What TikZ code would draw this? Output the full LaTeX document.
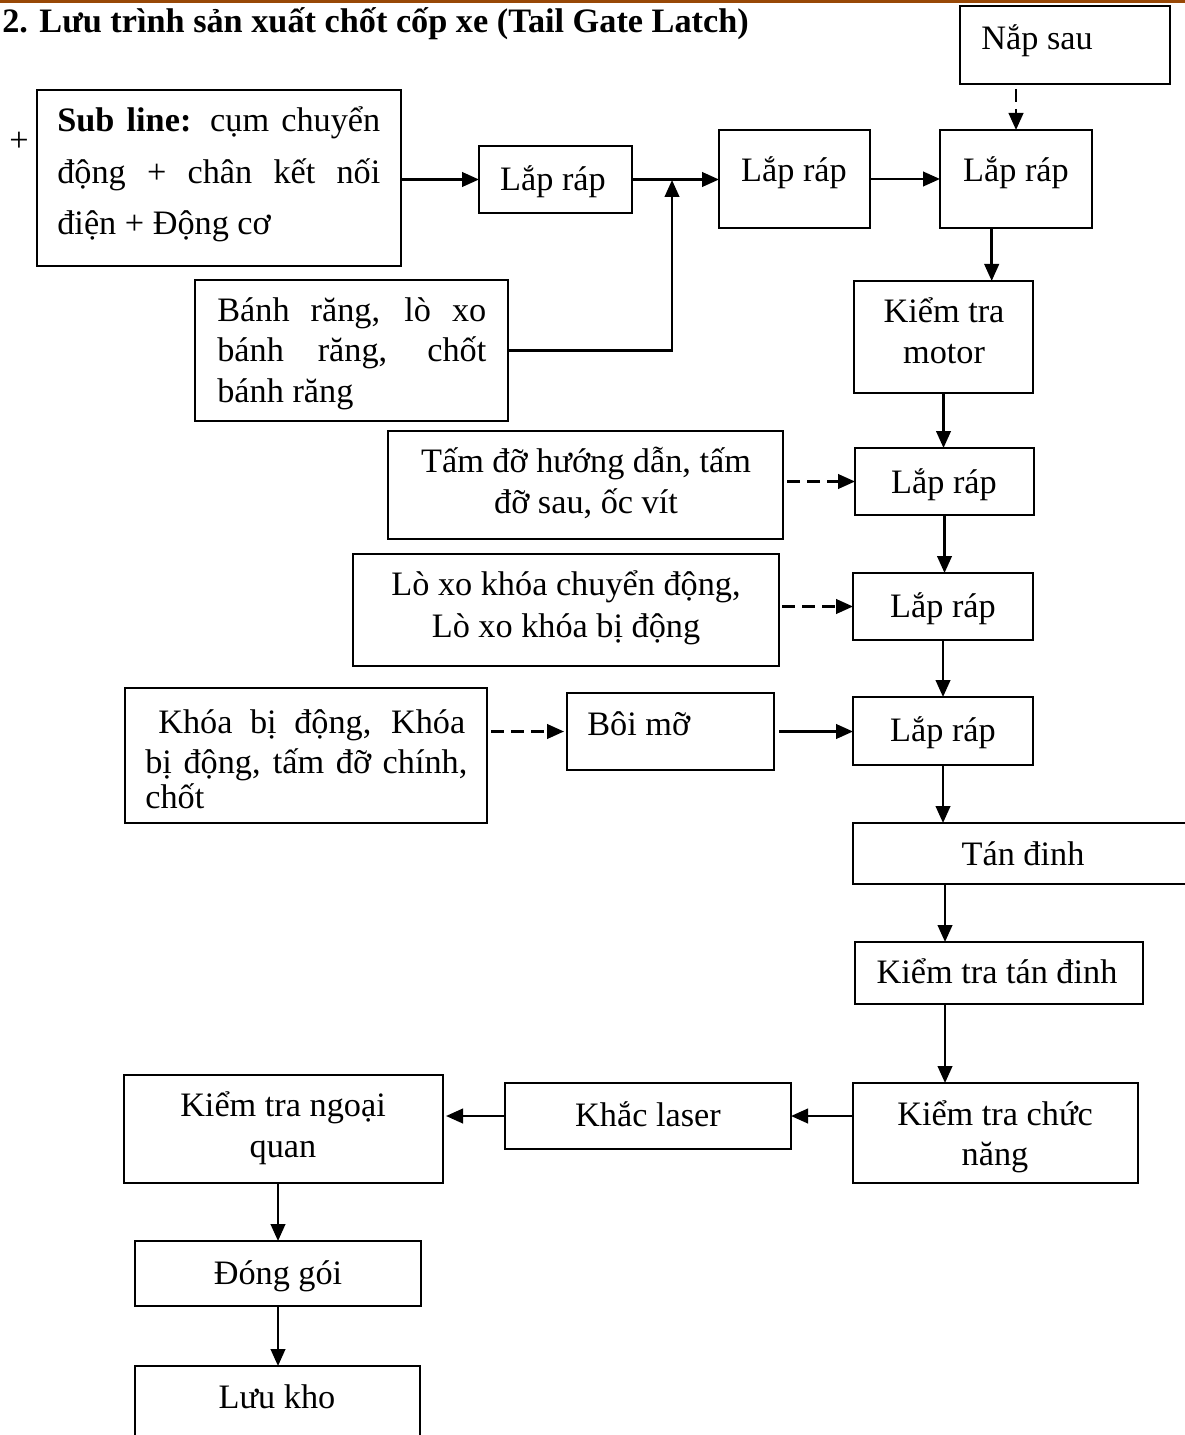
\documentclass[tikz,border=0pt]{standalone}
\usepackage{fontspec}
\setmainfont{Liberation Serif}
\usetikzlibrary{arrows.meta,fit,calc}
\definecolor{rulebrown}{RGB}{152,72,6}
\newlength{\pxu}
\setlength{\pxu}{0.02cm}
% rectangle given by its top-left and bottom-right corners
\newcommand{\flowbox}[5]{%
  \coordinate (#1-nw) at (#2,#3);
  \coordinate (#1-se) at (#4,#5);
  \node[box, fit=(#1-nw)(#1-se)] (#1) {};}
\begin{document}
\begin{tikzpicture}[x=0.02cm,y=-0.02cm,
  font=\fontsize{19.5pt}{23pt}\selectfont,
  box/.style={draw, line width=1.1pt, inner sep=0pt, outer sep=0pt},
  txt/.style={inner sep=0pt, anchor=base},
  ltxt/.style={inner sep=0pt, anchor=base west},
  arr/.style={line width=1.45pt, -{Triangle[length=3.4mm,width=2.9mm]}},
  darr/.style={arr, dash pattern=on 2.6mm off 1.4mm}]
\useasboundingbox (0,0) rectangle (1185,1435);
\clip (0,0) rectangle (1185,1435);

% page rule
\draw[rulebrown, line width=2pt] (0,1) -- (1185,1);

% heading
\node[ltxt, font=\fontsize{19.5pt}{23pt}\selectfont\bfseries] (title) at (2,33)
  {2. Lưu trình sản xuất chốt cốp xe (Tail Gate Latch)};
\node[txt] (plus) at (19,152) {+};

% boxes
\flowbox{sub}{37}{90}{401}{266}
\flowbox{lr1}{479}{146}{632}{213}
\flowbox{lr2}{719}{130}{870}{228}
\flowbox{lr3}{940}{130}{1092}{228}
\flowbox{nap}{960}{6}{1170}{84}
\flowbox{br}{195}{280}{508}{421}
\flowbox{km}{854}{281}{1033}{393}
\flowbox{tam}{388}{431}{783}{539}
\flowbox{lr4}{855}{448}{1034}{515}
\flowbox{lx}{353}{554}{779}{666}
\flowbox{lr5}{853}{573}{1033}{640}
\flowbox{khoa}{125}{688}{487}{823}
\flowbox{boi}{567}{693}{774}{770}
\flowbox{lr6}{853}{697}{1033}{765}
\flowbox{tan}{853}{823}{1220}{884}
\flowbox{kttd}{855}{942}{1143}{1004}
\flowbox{ktcn}{853}{1083}{1138}{1183}
\flowbox{khac}{505}{1083}{791}{1149}
\flowbox{ktnq}{124}{1075}{443}{1183}
\flowbox{dg}{135}{1241}{421}{1306}
\flowbox{lk}{135}{1366}{420}{1470}

% box texts
\node[ltxt] (sub-1) at (57,132) {\makebox[323\pxu][s]{\textbf{Sub line:} cụm chuyển}};
\node[ltxt] (sub-2) at (57,184) {\makebox[323\pxu][s]{động + chân kết nối}};
\node[ltxt] (sub-3) at (57,235) {điện + Động cơ};
\node[txt] (lr1-t) at (553,191) {Lắp ráp};
\node[txt] (lr2-t) at (794,182) {Lắp ráp};
\node[txt] (lr3-t) at (1016,182) {Lắp ráp};
\node[ltxt] (nap-t) at (981,50) {Nắp sau};
\node[ltxt] (br-1) at (217,322) {\makebox[269\pxu][s]{Bánh răng, lò xo}};
\node[ltxt] (br-2) at (217,362) {\makebox[269\pxu][s]{bánh răng, chốt}};
\node[ltxt] (br-3) at (217,403) {bánh răng};
\node[txt] (km-1) at (944,323) {Kiểm tra};
\node[txt] (km-2) at (944,364) {motor};
\node[txt] (tam-1) at (586,473) {Tấm đỡ hướng dẫn, tấm};
\node[txt] (tam-2) at (586,513) {đỡ sau, ốc vít};
\node[txt] (lr4-t) at (944,493) {Lắp ráp};
\node[txt] (lx-1) at (566,595) {Lò xo khóa chuyển động,};
\node[txt] (lx-2) at (566,637) {Lò xo khóa bị động};
\node[txt] (lr5-t) at (943,617) {Lắp ráp};
\node[ltxt] (khoa-1) at (158,733) {\makebox[307\pxu][s]{Khóa bị động, Khóa}};
\node[ltxt] (khoa-2) at (145,773) {\makebox[322\pxu][s]{bị động, tấm đỡ chính,}};
\node[ltxt] (khoa-3) at (145,808) {chốt};
\node[ltxt] (boi-t) at (587,735) {Bôi mỡ};
\node[txt] (lr6-t) at (943,741) {Lắp ráp};
\node[txt] (tan-t) at (1023,865) {Tán đinh};
\node[txt] (kttd-t) at (997,983) {Kiểm tra tán đinh};
\node[txt] (ktcn-1) at (995,1125) {Kiểm tra chức};
\node[txt] (ktcn-2) at (995,1165) {năng};
\node[txt] (khac-t) at (648,1126) {Khắc laser};
\node[txt] (ktnq-1) at (283,1116) {Kiểm tra ngoại};
\node[txt] (ktnq-2) at (283,1157) {quan};
\node[txt] (dg-t) at (278,1284) {Đóng gói};
\node[txt] (lk-t) at (277,1408) {Lưu kho};

% connectors
\coordinate (j1) at (672,180);
\coordinate (c3) at ($(lr3.south west)!0.34!(lr3.south east)$);
\coordinate (c5) at ($(tan.south west)+(92,0)$);
\coordinate (c6) at ($(kttd.south west)+(90,0)$);

\draw[arr] (sub.east |- lr1.west) -- (lr1.west);
\draw[arr] (lr1.east) -- (lr1.east -| lr2.west);
\draw[arr] (br.east) -| (j1);
\draw[arr] (lr2.east) -- (lr3.west);
\draw[darr, shorten <=5\pxu] (lr3.north |- nap.south) -- (lr3.north);
\draw[arr] (c3) -- (c3 |- km.north);
\draw[arr] (km.south) -- (km.south |- lr4.north);
\draw[darr, shorten <=4\pxu] (tam.east |- lr4.west) -- (lr4.west);
\draw[arr] (lr4.south) -- (lr4.south |- lr5.north);
\draw[darr, shorten <=3\pxu] (lx.east |- lr5.west) -- (lr5.west);
\draw[arr] (lr5.south) -- (lr5.south |- lr6.north);
\draw[darr, shorten <=4\pxu, shorten >=3\pxu] (khoa.east |- boi.west) -- (boi.west);
\draw[arr, shorten <=5\pxu] (boi.east) -- (boi.east -| lr6.west);
\draw[arr] (lr6.south) -- (lr6.south |- tan.north);
\draw[arr] (c5) -- (c5 |- kttd.north);
\draw[arr] (c6) -- (c6 |- ktcn.north);
\draw[arr] (ktcn.west |- khac.east) -- (khac.east);
\draw[arr, shorten >=3\pxu] (khac.west) -- (khac.west -| ktnq.east);
\draw[arr] (dg.north |- ktnq.south) -- (dg.north);
\draw[arr] (dg.south) -- (dg.south |- lk.north);
\end{tikzpicture}
\end{document}
